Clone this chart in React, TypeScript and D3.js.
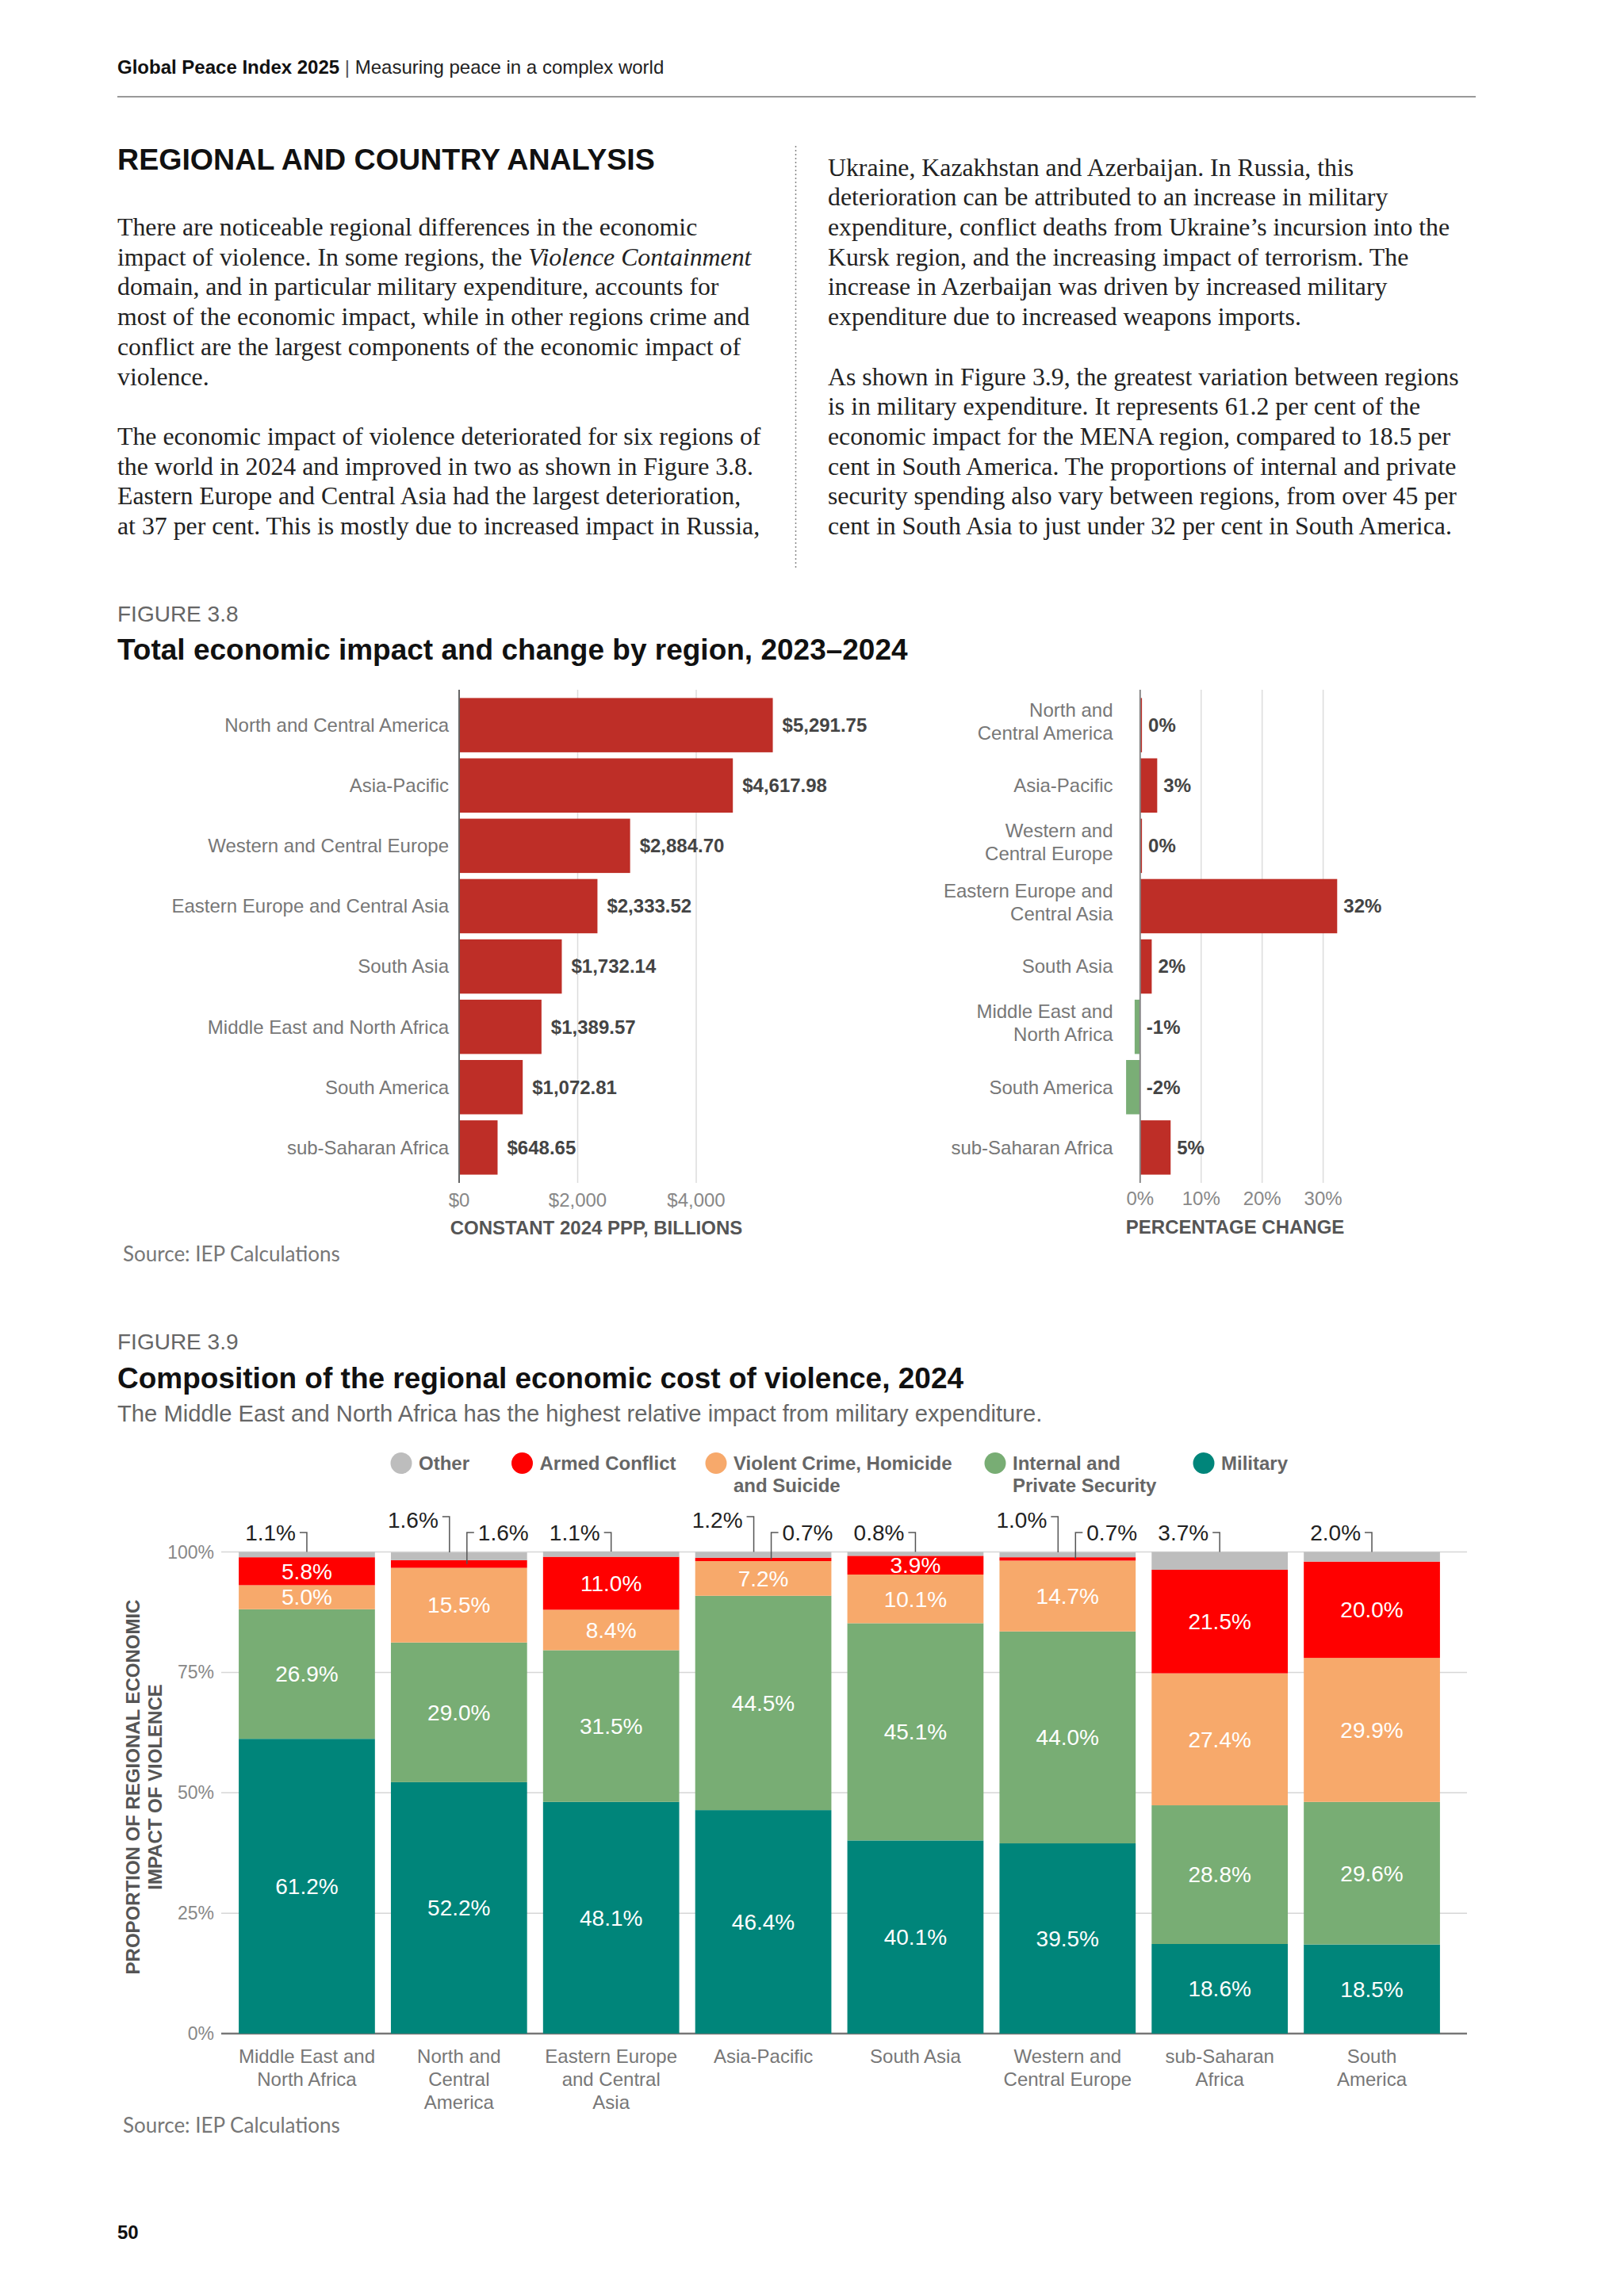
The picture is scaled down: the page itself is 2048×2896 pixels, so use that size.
import React from "react";
import * as d3 from "d3";

// ---- Figure 3.8 data ----
const regions38 = [
  "North and Central America",
  "Asia-Pacific",
  "Western and Central Europe",
  "Eastern Europe and Central Asia",
  "South Asia",
  "Middle East and North Africa",
  "South America",
  "sub-Saharan Africa",
];
const regions38Wrapped = [
  "North and\nCentral America",
  "Asia-Pacific",
  "Western and\nCentral Europe",
  "Eastern Europe and\nCentral Asia",
  "South Asia",
  "Middle East and\nNorth Africa",
  "South America",
  "sub-Saharan Africa",
];
const impact2024 = [5291.75, 4617.98, 2884.7, 2333.52, 1732.14, 1389.57, 1072.81, 648.65];
const pctChange = [0.3, 2.8, 0.3, 32.3, 1.9, -0.9, -2.3, 5.0];
const impactTicks = [0, 2000, 4000];
const changeTicks = [0, 10, 20, 30];

// ---- Figure 3.9 data ----
const regions39 = [
  "Middle East and\nNorth Africa",
  "North and\nCentral\nAmerica",
  "Eastern Europe\nand Central\nAsia",
  "Asia-Pacific",
  "South Asia",
  "Western and\nCentral Europe",
  "sub-Saharan\nAfrica",
  "South\nAmerica",
];
const components = ["Military", "Internal and Private Security", "Violent Crime, Homicide and Suicide", "Armed Conflict", "Other"];
const military = [61.2, 52.2, 48.1, 46.4, 40.1, 39.5, 18.6, 18.5];
const internalSecurity = [26.9, 29.0, 31.5, 44.5, 45.1, 44.0, 28.8, 29.6];
const violentCrime = [5.0, 15.5, 8.4, 7.2, 10.1, 14.7, 27.4, 29.9];
const armedConflict = [5.8, 1.6, 11.0, 0.7, 3.9, 0.7, 21.5, 20.0];
const other = [1.1, 1.6, 1.1, 1.2, 0.8, 1.0, 3.7, 2.0];
const shareTicks = [0, 25, 50, 75, 100];
const legendKeys = ["Other", "Armed Conflict", "Violent Crime, Homicide and Suicide", "Internal and Private Security", "Military"];
const legendLabels = ["Other", "Armed Conflict", "Violent Crime, Homicide\nand Suicide", "Internal and\nPrivate Security", "Military"];

// ---- text ----
const leftCol = [
  ["There are noticeable regional differences in the economic",
   "impact of violence. In some regions, the |Violence Containment|",
   "domain, and in particular military expenditure, accounts for",
   "most of the economic impact, while in other regions crime and",
   "conflict are the largest components of the economic impact of",
   "violence."],
  ["The economic impact of violence deteriorated for six regions of",
   "the world in 2024 and improved in two as shown in Figure 3.8.",
   "Eastern Europe and Central Asia had the largest deterioration,",
   "at 37 per cent. This is mostly due to increased impact in Russia,"],
];
const rightCol = [
  ["Ukraine, Kazakhstan and Azerbaijan. In Russia, this",
   "deterioration can be attributed to an increase in military",
   "expenditure, conflict deaths from Ukraine’s incursion into the",
   "Kursk region, and the increasing impact of terrorism. The",
   "increase in Azerbaijan was driven by increased military",
   "expenditure due to increased weapons imports."],
  ["As shown in Figure 3.9, the greatest variation between regions",
   "is in military expenditure. It represents 61.2 per cent of the",
   "economic impact for the MENA region, compared to 18.5 per",
   "cent in South America. The proportions of internal and private",
   "security spending also vary between regions, from over 45 per",
   "cent in South Asia to just under 32 per cent in South America."],
];

const SANS = "'Liberation Sans', Arial, sans-serif";
const SERIF = "'Liberation Serif', 'Times New Roman', serif";
const SOURCE = "Lato, sans-serif";

const RED = "#be2e27";
const GREEN = "#7aae76";
const colors39 = d3.scaleOrdinal<string, string>()
  .domain(components)
  .range(["#00857a", "#78ad74", "#f7a96b", "#ff0000", "#bdbdbd"]);

function Paragraphs({ x, y0, paras }: { x: number; y0: number; paras: string[][] }) {
  const lh = 37.7;
  const out: JSX.Element[] = [];
  let row = 0;
  paras.forEach((p, pi) => {
    p.forEach((line, li) => {
      const parts = line.split("|");
      out.push(
        <text key={`${pi}-${li}`} x={x} y={y0 + row * lh} fontFamily={SERIF} fontSize={31.8} fill="#222">
          {parts.map((s, k) => (
            <tspan key={k} fontStyle={k % 2 === 1 ? "italic" : "normal"}>{s}</tspan>
          ))}
        </text>
      );
      row++;
    });
    row++;
  });
  return <g>{out}</g>;
}

// multi-line text; y is the baseline of the first line
function Lines({ text, x, y, lh, anchor, ...rest }: any) {
  const lines = text.split("\n");
  return (
    <text textAnchor={anchor} {...rest}>
      {lines.map((l: string, i: number) => (
        <tspan key={i} x={x} y={y + i * lh}>{l}</tspan>
      ))}
    </text>
  );
}

function Figure38() {
  const rows = d3.scaleBand<string>().domain(regions38).range([876.6, 1485.4]).paddingInner(0.1).paddingOuter(0.05);
  const xImp = d3.scaleLinear().domain([0, 4000]).range([579, 878]);
  const xChg = d3.scaleLinear().domain([0, 30]).range([1437.8, 1668.6]);
  const gTop = 870, gBot = 1492;
  const money = d3.format("$,.2f");
  const moneyTick = d3.format("$,");
  return (
    <g>
      <text x={148} y={784} fontFamily={SANS} fontSize={28} fill="#666">FIGURE 3.8</text>
      <text x={148} y={832} fontFamily={SANS} fontSize={37} fontWeight="bold" fill="#111">
        Total economic impact and change by region, 2023–2024
      </text>

      {/* left: total impact */}
      {impactTicks.filter(t => t > 0).map(t => (
        <line key={t} x1={xImp(t)} x2={xImp(t)} y1={gTop} y2={gBot} stroke="#dcdcdc" strokeWidth={1.5} />
      ))}
      {regions38.map((r, i) => (
        <g key={r}>
          <rect x={xImp(0)} y={rows(r)} width={xImp(impact2024[i]) - xImp(0)} height={rows.bandwidth()} fill={RED} />
          <text x={566} y={rows(r)! + rows.bandwidth() / 2} dy="0.35em" textAnchor="end" fontFamily={SANS} fontSize={24} fill="#777">{r}</text>
          <text x={xImp(impact2024[i]) + 12} y={rows(r)! + rows.bandwidth() / 2} dy="0.35em" fontFamily={SANS} fontSize={24} fontWeight="bold" fill="#444">{money(impact2024[i])}</text>
        </g>
      ))}
      <line x1={xImp(0)} x2={xImp(0)} y1={gTop} y2={gBot} stroke="#666" strokeWidth={2} />
      {impactTicks.map(t => (
        <text key={t} x={xImp(t)} y={1522} textAnchor="middle" fontFamily={SANS} fontSize={24} fill="#888">{moneyTick(t)}</text>
      ))}
      <text x={752} y={1557} textAnchor="middle" fontFamily={SANS} fontSize={24} fontWeight="bold" fill="#555">CONSTANT 2024 PPP, BILLIONS</text>
      <text x={155} y={1591} fontFamily={SOURCE} fontSize={26} fill="#777">Source: IEP Calculations</text>

      {/* right: percentage change */}
      {changeTicks.filter(t => t > 0).map(t => (
        <line key={t} x1={xChg(t)} x2={xChg(t)} y1={gTop} y2={gBot} stroke="#dcdcdc" strokeWidth={1.5} />
      ))}
      {regions38.map((r, i) => {
        const v = pctChange[i];
        const cy = rows(r)! + rows.bandwidth() / 2;
        const n = regions38Wrapped[i].split("\n").length;
        return (
          <g key={r}>
            <rect x={xChg(Math.min(0, v))} y={rows(r)} width={Math.abs(xChg(v) - xChg(0))} height={rows.bandwidth()} fill={v >= 0 ? RED : GREEN} />
            <Lines text={regions38Wrapped[i]} x={1403.5} y={cy + 8.4 - ((n - 1) * 29) / 2 - (n - 1) * 5} lh={29} anchor="end"
              fontFamily={SANS} fontSize={24} fill="#777" />
            <text x={xChg(Math.max(0, v)) + 8} y={cy} dy="0.35em" fontFamily={SANS} fontSize={24} fontWeight="bold" fill="#444">{`${Math.round(v)}%`}</text>
          </g>
        );
      })}
      <line x1={xChg(0)} x2={xChg(0)} y1={gTop} y2={gBot} stroke="#888" strokeWidth={2} />
      {changeTicks.map(t => (
        <text key={t} x={xChg(t)} y={1520} textAnchor="middle" fontFamily={SANS} fontSize={24} fill="#888">{`${t}%`}</text>
      ))}
      <text x={1557.6} y={1556} textAnchor="middle" fontFamily={SANS} fontSize={24} fontWeight="bold" fill="#555">PERCENTAGE CHANGE</text>
    </g>
  );
}

function Figure39() {
  const table = regions39.map((r, i) => ({
    region: r,
    [components[0]]: military[i],
    [components[1]]: internalSecurity[i],
    [components[2]]: violentCrime[i],
    [components[3]]: armedConflict[i],
    [components[4]]: other[i],
  }));
  const series = d3.stack<any>().keys(components)(table);
  const x = d3.scaleBand<string>().domain(regions39).range([291.5, 1825.5]).paddingInner(0.105).paddingOuter(0.05);
  const y = d3.scaleLinear().domain([0, 100]).range([2565, 1957.5]);
  const legendX = [506, 658.5, 903, 1255, 1518];
  const armedIdx = components.indexOf("Armed Conflict");
  const otherIdx = components.indexOf("Other");

  return (
    <g>
      <text x={148} y={1702} fontFamily={SANS} fontSize={28} fill="#666">FIGURE 3.9</text>
      <text x={148} y={1751} fontFamily={SANS} fontSize={37} fontWeight="bold" fill="#111">
        Composition of the regional economic cost of violence, 2024
      </text>
      <text x={148} y={1793} fontFamily={SANS} fontSize={29.2} fill="#666">
        The Middle East and North Africa has the highest relative impact from military expenditure.
      </text>

      {legendKeys.map((k, i) => (
        <g key={k}>
          <circle cx={legendX[i]} cy={1845.5} r={13.5} fill={colors39(k)} />
          <Lines text={legendLabels[i]} x={legendX[i] + 22} y={1853.5} lh={28} anchor="start"
            fontFamily={SANS} fontSize={24} fontWeight="bold" fill="#666" />
        </g>
      ))}

      {shareTicks.map(t => (
        <g key={t}>
          <line x1={279} x2={1850} y1={y(t)} y2={y(t)} stroke={t === 0 ? "#777" : "#d6d6d6"} strokeWidth={t === 0 ? 2.5 : 1.5} />
          <text x={270} y={y(t)} dy="0.35em" textAnchor="end" fontFamily={SANS} fontSize={23} fill="#888">{`${t}%`}</text>
        </g>
      ))}

      <text transform="translate(175.5,2254) rotate(-90)" textAnchor="middle" fontFamily={SANS} fontSize={24} fontWeight="bold" fill="#555">
        <tspan x={0} y={0}>PROPORTION OF REGIONAL ECONOMIC</tspan>
        <tspan x={0} y={28}>IMPACT OF VIOLENCE</tspan>
      </text>

      {series.map(s => (
        <g key={s.key} fill={colors39(s.key)}>
          {s.map((d: any) => (
            <rect key={d.data.region} x={x(d.data.region)} y={y(d[1])} width={x.bandwidth()} height={y(d[0]) - y(d[1])} />
          ))}
        </g>
      ))}

      {/* labels inside segments */}
      {series.map((s, si) =>
        s.map((d: any) => {
          const v = d[1] - d[0];
          if (si === otherIdx || v < 3) return null;
          return (
            <text key={`${s.key}-${d.data.region}`} x={x(d.data.region)! + x.bandwidth() / 2} y={y((d[0] + d[1]) / 2)} dy="0.35em"
              textAnchor="middle" fontFamily={SANS} fontSize={28} fill="#fff">{`${v.toFixed(1)}%`}</text>
          );
        })
      )}

      {/* callouts for small segments */}
      {regions39.map((r, i) => {
        const cx = x(r)! + x.bandwidth() / 2;
        const o = series[otherIdx][i];
        const a = series[armedIdx][i];
        const armedOut = a[1] - a[0] < 3;
        const out: JSX.Element[] = [];
        if (armedOut) {
          const lx = cx - 12;
          out.push(
            <g key="o">
              <polyline points={`${lx - 9},1913 ${lx},1913 ${lx},${y(o[1])}`} fill="none" stroke="#555" strokeWidth={1.5} />
              <text x={lx - 14} y={1926.5} textAnchor="end" fontFamily={SANS} fontSize={28} fill="#222">{`${other[i].toFixed(1)}%`}</text>
            </g>
          );
          const rx = cx + 10;
          out.push(
            <g key="a">
              <polyline points={`${rx + 9},1933 ${rx},1933 ${rx},${y((a[0] + a[1]) / 2)}`} fill="none" stroke="#555" strokeWidth={1.5} />
              <text x={rx + 14} y={1943} fontFamily={SANS} fontSize={28} fill="#222">{`${armedConflict[i].toFixed(1)}%`}</text>
            </g>
          );
        } else {
          out.push(
            <g key="o">
              <polyline points={`${cx - 9},1933 ${cx},1933 ${cx},${y(o[1])}`} fill="none" stroke="#555" strokeWidth={1.5} />
              <text x={cx - 14} y={1943} textAnchor="end" fontFamily={SANS} fontSize={28} fill="#222">{`${other[i].toFixed(1)}%`}</text>
            </g>
          );
        }
        return <g key={r}>{out}</g>;
      })}

      {regions39.map(r => (
        <Lines key={r} text={r} x={x(r)! + x.bandwidth() / 2} y={2601.5} lh={29} anchor="middle"
          fontFamily={SANS} fontSize={24} fill="#777" />
      ))}

      <text x={155} y={2690} fontFamily={SOURCE} fontSize={26} fill="#777">Source: IEP Calculations</text>
    </g>
  );
}

export default function App() {
  return (
    <svg width={2048} height={2896} viewBox="0 0 2048 2896" style={{ position: "absolute", left: 0, top: 0, background: "#fff" }}>
      <rect width={2048} height={2896} fill="#fff" />
      <text x={148} y={93} fontFamily={SANS} fontSize={24} fill="#222">
        <tspan fontWeight="bold" fill="#111">Global Peace Index 2025</tspan>
        <tspan fill="#555"> | </tspan>
        <tspan>Measuring peace in a complex world</tspan>
      </text>
      <line x1={148} x2={1861} y1={122} y2={122} stroke="#999" strokeWidth={2} />

      <text x={148} y={214} fontFamily={SANS} fontSize={37.6} fontWeight="bold" fill="#111">REGIONAL AND COUNTRY ANALYSIS</text>
      <line x1={1003.5} x2={1003.5} y1={184} y2={717} stroke="#888" strokeWidth={1.5} strokeDasharray="2 3" />

      <Paragraphs x={148} y0={297} paras={leftCol} />
      <Paragraphs x={1044} y0={221.6} paras={rightCol} />

      <Figure38 />
      <Figure39 />

      <text x={148} y={2823.5} fontFamily={SANS} fontSize={24} fontWeight="bold" fill="#111">50</text>
    </svg>
  );
}
